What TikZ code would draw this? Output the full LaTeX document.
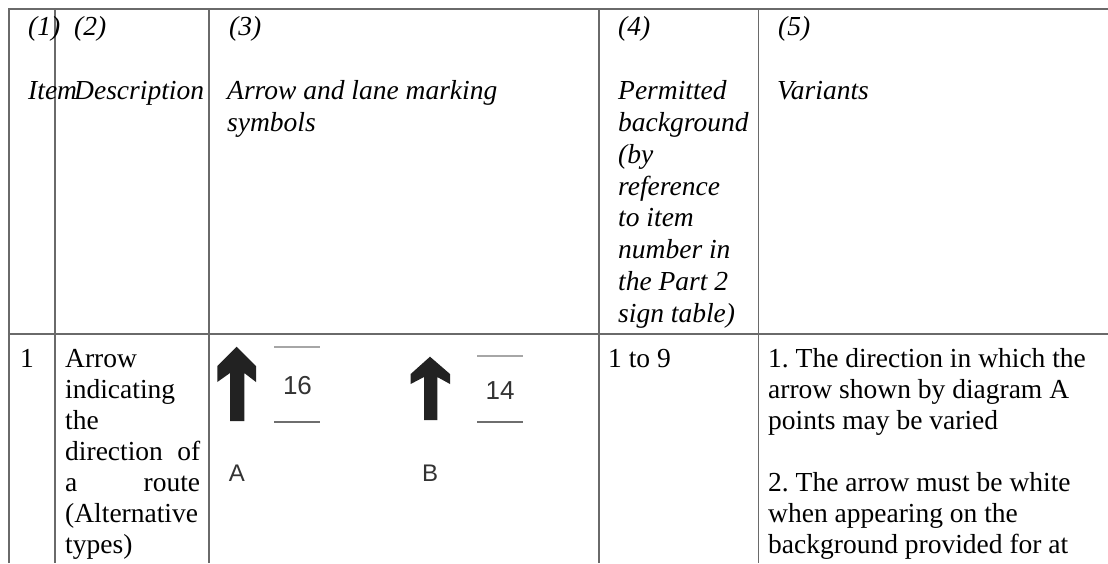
\documentclass[tikz,border=0pt]{standalone}
\usepackage{fontspec}
\setmainfont{Liberation Serif}
\newfontfamily\signfont{Liberation Sans}
\usepackage{tikz}
\usetikzlibrary{positioning}
\frenchspacing
\definecolor{gridgray}{HTML}{6A6A6A}
\definecolor{arrowblack}{HTML}{222222}
\definecolor{signgray}{HTML}{333333}
\definecolor{barlight}{HTML}{A6A6A6}
\definecolor{bardark}{HTML}{6E6E6E}
% multi-line nodes sit on the baseline of their last line
\tikzstyle{head}     = [anchor=base west, inner sep=0pt, align=left,
                        font=\fontsize{27.5}{31.9}\selectfont\itshape]
\tikzstyle{body}     = [anchor=base west, inner sep=0pt, align=left,
                        font=\fontsize{27.5}{31}\selectfont]
\tikzstyle{rule}     = [draw=gridgray, line width=1.2pt]
\tikzstyle{sign}     = [fill=arrowblack, draw=none]
\tikzstyle{signtext} = [anchor=base, inner sep=0pt, text=signgray,
                        font=\signfont\fontsize{26}{30}\selectfont]
\tikzstyle{bar}      = [line width=1.6pt]
\def\colw{135pt}

\begin{document}
\begin{tikzpicture}[x=1pt, y=-1pt]
		\useasboundingbox (0,0) rectangle (1108,563);
		\fill[white] (0,0) rectangle (1108,563);
		% grid
		\draw[rule] (9,563) -- (9,9) -- (1108,9);
		\draw[rule] (9,334) -- (1108,334);
		\foreach \cx in {55,209,599,758.5}
			\draw[rule] (\cx,9) -- (\cx,563);
		% header row
		\node[head] (h1) at (28,35.5) {(1)};
		\node[head] (h2) at (74,35.5) {(2)};
		\node[head] (h3) at (229,35.5) {(3)};
		\node[head] (h4) at (618,35.5) {(4)};
		\node[head] (h5) at (778,35.5) {(5)};
		\node[head] (item) at (28,99.3) {Item};
		\node[head] (descr) at (74,99.3) {Description};
		\node[head] (symbols) at (227,131.2) {Arrow and lane marking\\symbols};
		\node[head] (backgr) at (618,322.6) {Permitted\\background\\(by\\reference\\to item\\number in\\the Part 2\\sign table)};
		\node[head] (variants) at (777,99.3) {Variants};
		% item 1
		\node[body] (num) at (20,367) {1};
		\node[body] (what) at (65,553) {Arrow\\indicating\\the\\\makebox[\colw][s]{direction of}\\\makebox[\colw][s]{a route}\\(Alternative\\types)};
		\node[body] (range) at (608,367) {1 to 9};
		\node[body] (var1) at (768,429) {1. The direction in which the\\arrow shown by diagram A\\points may be varied};
		\node[body] (var2) at (768,553) {2. The arrow must be white\\when appearing on the\\background provided for at};
		% symbol A
		\fill[sign] (236.7,346.7) -- (256,366) -- (256,382) -- (244.3,373) -- (244.3,421)
			-- (230,421) -- (230,373) -- (217.3,382) -- (217.3,366) -- cycle;
		\draw[bar, barlight] (274,346.7) -- (320,346.7);
		\draw[bar, bardark] (274,421.7) -- (320,421.7);
		\node[signtext] (lenA) at (297.5,394.3) {16};
		\node[signtext, font=\signfont\fontsize{24}{28}\selectfont] (labA) at (237,481.7) {A};
		% symbol B
		\fill[sign] (430,356.7) -- (450,374) -- (450,384) -- (437.3,377) -- (437.3,420)
			-- (424,420) -- (424,377) -- (410.7,384) -- (410.7,374) -- cycle;
		\draw[bar, barlight] (477,356) -- (523,356);
		\draw[bar, bardark] (477,421.7) -- (523,421.7);
		\node[signtext] (lenB) at (500,399) {14};
		\node[signtext, font=\signfont\fontsize{24}{28}\selectfont] (labB) at (430,481.7) {B};
	\end{tikzpicture}
\end{document}
